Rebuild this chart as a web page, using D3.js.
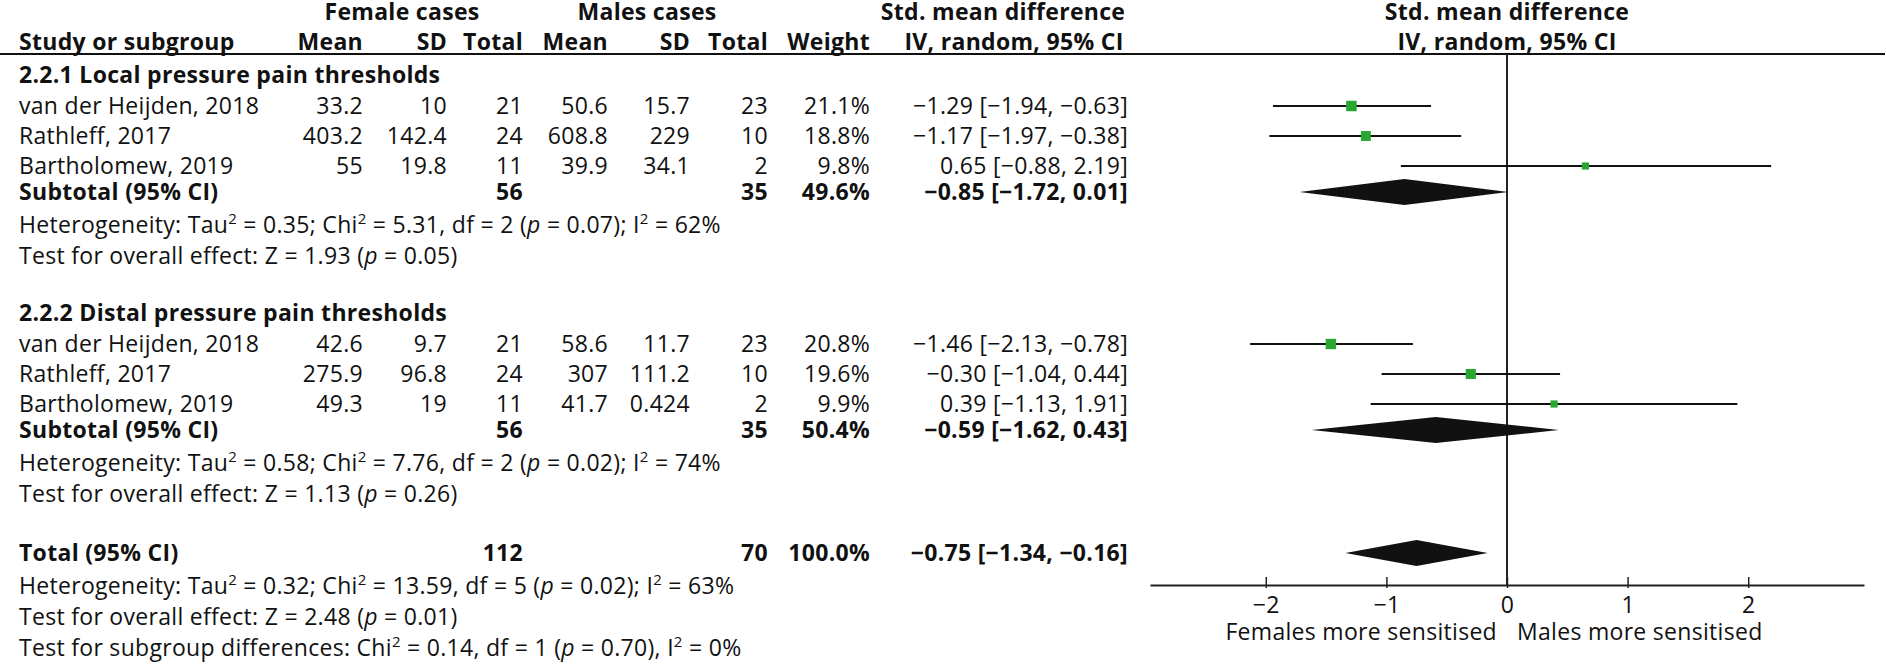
<!DOCTYPE html>
<html>
<head>
<meta charset="utf-8">
<script src="https://cdn.jsdelivr.net/npm/d3@7"></script>
<style>
  body { margin: 0; background: #fff; }
  svg { display: block; font-family: "Open Sans", sans-serif; }
  text { fill: #111; font-size: 23px; letter-spacing: 0.3px; }
  .bold { font-weight: 700; }
</style>
</head>
<body>
<svg id="forest" width="1886" height="664"></svg>
<script>
// study data
const studies = ['van der Heijden, 2018', 'Rathleff, 2017', 'Bartholomew, 2019'];

const localFemaleMean = [33.2, 403.2, 55];
const localFemaleSD = [10, 142.4, 19.8];
const localFemaleN = [21, 24, 11];
const localMaleMean = [50.6, 608.8, 39.9];
const localMaleSD = [15.7, 229, 34.1];
const localMaleN = [23, 10, 2];
const localWeight = [21.1, 18.8, 9.8];
const localSMD = [-1.29, -1.17, 0.65];
const localLow = [-1.94, -1.97, -0.88];
const localHigh = [-0.63, -0.38, 2.19];

const distalFemaleMean = [42.6, 275.9, 49.3];
const distalFemaleSD = [9.7, 96.8, 19];
const distalFemaleN = [21, 24, 11];
const distalMaleMean = [58.6, 307, 41.7];
const distalMaleSD = [11.7, 111.2, 0.424];
const distalMaleN = [23, 10, 2];
const distalWeight = [20.8, 19.6, 9.9];
const distalSMD = [-1.46, -0.30, 0.39];
const distalLow = [-2.13, -1.04, -1.13];
const distalHigh = [-0.78, 0.44, 1.91];

// subtotal / total: [femaleN, maleN, weight, smd, low, high]
const localSubtotal = [56, 35, 49.6, -0.85, -1.72, 0.01];
const distalSubtotal = [56, 35, 50.4, -0.59, -1.62, 0.43];
const overallTotal = [112, 70, 100.0, -0.75, -1.34, -0.16];

const localStats = [
  'Heterogeneity: Tau^2 = 0.35; Chi^2 = 5.31, df = 2 (*p* = 0.07); I^2 = 62%',
  'Test for overall effect: Z = 1.93 (*p* = 0.05)'
];
const distalStats = [
  'Heterogeneity: Tau^2 = 0.58; Chi^2 = 7.76, df = 2 (*p* = 0.02); I^2 = 74%',
  'Test for overall effect: Z = 1.13 (*p* = 0.26)'
];
const totalStats = [
  'Heterogeneity: Tau^2 = 0.32; Chi^2 = 13.59, df = 5 (*p* = 0.02); I^2 = 63%',
  'Test for overall effect: Z = 2.48 (*p* = 0.01)',
  'Test for subgroup differences: Chi^2 = 0.14, df = 1 (*p* = 0.70), I^2 = 0%'
];

const axisTicks = [-2, -1, 0, 1, 2];
const axisLabels = ['Females more sensitised', 'Males more sensitised'];

// layout
const svg = d3.select('#forest');
const left = 19;
const colRight = { fMean: 363, fSD: 447, fN: 523, mMean: 608, mSD: 690, mN: 768, weight: 870, ci: 1128 };

const x = d3.scaleLinear().domain([-2.96, 2.96]).range([1150, 1864]);
const boxSize = d3.scaleSqrt().domain([0, 21.1]).range([0, 10.5]);
const axisY = 585;
const topLine = 54;
const capHalf = 8; // baseline offset from row centre

// row cursor (vertical spacing per kind of line)
let cursor = 12;
const step = { header: 30, group: 33, firstStudy: 31, study: 30, subtotal: 26, firstStat: 33, stat: 31, gap: 57, total: 59 };
const nextRow = kind => (cursor += step[kind]);

const minus = v => (v < 0 ? '\u2212' : '') + Math.abs(v).toFixed(2);
const ciText = (m, lo, hi) => `${minus(m)} [${minus(lo)}, ${minus(hi)}]`;

function addText(str, tx, cy, anchor, bold) {
  const t = svg.append('text')
    .attr('x', tx)
    .attr('y', cy + capHalf)
    .attr('text-anchor', anchor || 'start')
    .classed('bold', !!bold);
  // ^2 = superscript, *p* = italic
  const parts = str.split(/(\^2|\*p\*)/).filter(s => s !== '');
  let raised = false;
  parts.forEach(p => {
    const span = t.append('tspan');
    if (p === '^2') {
      span.attr('dy', -9).style('font-size', '15px').text('2');
      raised = true;
      return;
    }
    if (raised) span.attr('dy', 9);
    raised = false;
    if (p === '*p*') span.style('font-style', 'italic').text('p');
    else span.text(p);
  });
  return t;
}

// headers
const head1 = cursor;
const head2 = nextRow('header');
addText('Female cases', 402, head1, 'middle', true);
addText('Males cases', 647, head1, 'middle', true);
addText('Std. mean difference', 1003, head1, 'middle', true);
addText('Std. mean difference', x(0), head1, 'middle', true);

addText('Study or subgroup', left, head2, 'start', true);
addText('Mean', colRight.fMean, head2, 'end', true);
addText('SD', colRight.fSD, head2, 'end', true);
addText('Total', colRight.fN, head2, 'end', true);
addText('Mean', colRight.mMean, head2, 'end', true);
addText('SD', colRight.mSD, head2, 'end', true);
addText('Total', colRight.mN, head2, 'end', true);
addText('Weight', colRight.weight, head2, 'end', true);
addText('IV, random, 95% CI', 1014, head2, 'middle', true);
addText('IV, random, 95% CI', x(0), head2, 'middle', true);

svg.append('line')
  .attr('x1', 0).attr('x2', 1885)
  .attr('y1', topLine).attr('y2', topLine)
  .attr('stroke', '#111').attr('stroke-width', 2);

// zero line
svg.append('line')
  .attr('x1', x(0)).attr('x2', x(0))
  .attr('y1', topLine).attr('y2', axisY)
  .attr('stroke', '#222').attr('stroke-width', 2);

const plot = svg.append('g');

function drawDiamond(cy, vals) {
  const h = 13;
  plot.append('path')
    .attr('d', d3.line()([
      [x(vals[4]), cy], [x(vals[3]), cy - h], [x(vals[5]), cy], [x(vals[3]), cy + h]
    ]) + 'Z')
    .attr('fill', '#111');
}

function summaryRow(cy, label, vals) {
  addText(label, left, cy, 'start', true);
  addText(String(vals[0]), colRight.fN, cy, 'end', true);
  addText(String(vals[1]), colRight.mN, cy, 'end', true);
  addText(vals[2].toFixed(1) + '%', colRight.weight, cy, 'end', true);
  addText(ciText(vals[3], vals[4], vals[5]), colRight.ci, cy, 'end', true);
  drawDiamond(cy, vals);
}

function addStats(stats) {
  stats.forEach((s, i) => addText(s, left, nextRow(i === 0 ? 'firstStat' : 'stat')));
}

function addGroup(gapKind, title, fm, fsd, fn, mm, msd, mn, w, smd, lo, hi, sub, stats) {
  addText(title, left, nextRow(gapKind), 'start', true);
  const rows = studies.map((s, i) => ({
    cy: nextRow(i === 0 ? 'firstStudy' : 'study'), name: s, fm: fm[i], fsd: fsd[i], fn: fn[i],
    mm: mm[i], msd: msd[i], mn: mn[i], w: w[i], smd: smd[i], lo: lo[i], hi: hi[i]
  }));
  rows.forEach(d => {
    addText(d.name, left, d.cy);
    addText(String(d.fm), colRight.fMean, d.cy, 'end');
    addText(String(d.fsd), colRight.fSD, d.cy, 'end');
    addText(String(d.fn), colRight.fN, d.cy, 'end');
    addText(String(d.mm), colRight.mMean, d.cy, 'end');
    addText(String(d.msd), colRight.mSD, d.cy, 'end');
    addText(String(d.mn), colRight.mN, d.cy, 'end');
    addText(d.w.toFixed(1) + '%', colRight.weight, d.cy, 'end');
    addText(ciText(d.smd, d.lo, d.hi), colRight.ci, d.cy, 'end');
  });
  plot.selectAll(null)
    .data(rows)
    .enter()
    .append('line')
    .attr('x1', d => x(d.lo))
    .attr('x2', d => x(d.hi))
    .attr('y1', d => d.cy)
    .attr('y2', d => d.cy)
    .attr('stroke', '#111')
    .attr('stroke-width', 2);
  plot.selectAll(null)
    .data(rows)
    .enter()
    .append('rect')
    .attr('x', d => x(d.smd) - boxSize(d.w) / 2)
    .attr('y', d => d.cy - boxSize(d.w) / 2)
    .attr('width', d => boxSize(d.w))
    .attr('height', d => boxSize(d.w))
    .attr('fill', '#2aa632');
  summaryRow(nextRow('subtotal'), 'Subtotal (95% CI)', sub);
  addStats(stats);
}

addGroup('group', '2.2.1 Local pressure pain thresholds',
  localFemaleMean, localFemaleSD, localFemaleN, localMaleMean, localMaleSD, localMaleN,
  localWeight, localSMD, localLow, localHigh, localSubtotal, localStats);

addGroup('gap', '2.2.2 Distal pressure pain thresholds',
  distalFemaleMean, distalFemaleSD, distalFemaleN, distalMaleMean, distalMaleSD, distalMaleN,
  distalWeight, distalSMD, distalLow, distalHigh, distalSubtotal, distalStats);

summaryRow(nextRow('total'), 'Total (95% CI)', overallTotal);
addStats(totalStats);

// axis
const axis = svg.append('g')
  .attr('transform', `translate(0, ${axisY})`)
  .call(d3.axisBottom(x)
    .tickValues(axisTicks)
    .tickFormat(d3.format('d'))
    .tickSizeInner(-8)
    .tickSizeOuter(0)
    .tickPadding(12));
axis.select('.domain').attr('stroke', '#222').attr('stroke-width', 2);
axis.selectAll('.tick line').attr('y2', -8).attr('y1', 3).attr('stroke', '#222').attr('stroke-width', 1.5);
axis.selectAll('.tick text')
  .style('font-family', '"Open Sans", sans-serif')
  .style('font-size', '23px')
  .attr('fill', '#111');

addText(axisLabels[0], x(0) - 10, 632, 'end');
addText(axisLabels[1], x(0) + 10, 632, 'start');
</script>
</body>
</html>
